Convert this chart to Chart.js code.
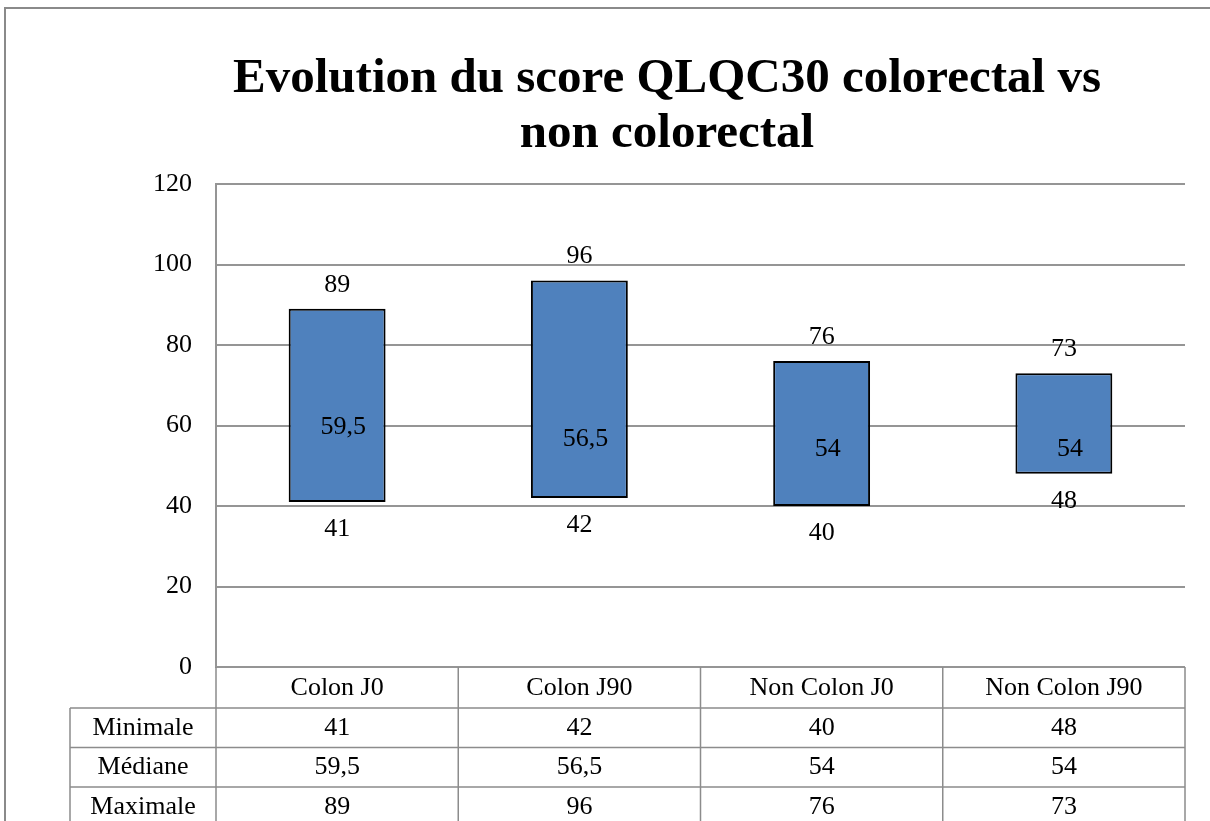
<!DOCTYPE html>
<html>
<head>
<meta charset="utf-8">
<script src="https://cdn.jsdelivr.net/npm/chart.js@4.4.1/dist/chart.umd.min.js"></script>
<style>
  html, body { margin: 0; padding: 0; background: #fff; }
  #wrap { width: 1210px; height: 821px; position: relative; }
</style>
</head>
<body>
<div id="wrap"><canvas id="c" width="1210" height="821"></canvas></div>
<script>
const categories = ['Colon J0', 'Colon J90', 'Non Colon J0', 'Non Colon J90'];
const minimale = [41, 42, 40, 48];
const mediane = [59.5, 56.5, 54, 54];
const maximale = [89, 96, 76, 73];
const rowLabels = ['Minimale', 'Médiane', 'Maximale'];
const titleLines = ['Evolution du score QLQC30 colorectal vs', 'non colorectal'];
const yMin = 0, yMax = 120, yStep = 20;

const SERIF = '"Liberation Serif", "DejaVu Serif", serif';
const fmt = v => String(v).replace('.', ',');
const rows = [minimale, mediane, maximale];

const decor = {
  id: 'decor',
  beforeDraw(chart) {
    const ctx = chart.ctx;
    ctx.save();
    ctx.fillStyle = '#fff';
    ctx.fillRect(0, 0, chart.width, chart.height);
    ctx.strokeStyle = '#8a8a8a';
    ctx.lineWidth = 2;
    ctx.beginPath();
    ctx.moveTo(5, chart.height);
    ctx.lineTo(5, 8);
    ctx.lineTo(chart.width, 8);
    ctx.stroke();
    // title
    ctx.fillStyle = '#000';
    ctx.font = 'bold 49px ' + SERIF;
    ctx.textAlign = 'center';
    ctx.textBaseline = 'alphabetic';
    ctx.fillText(titleLines[0], 667, 92);
    ctx.fillText(titleLines[1], 667, 147);
    ctx.restore();
  },
  afterDraw(chart) {
    const ctx = chart.ctx;
    const x = chart.scales.x, y = chart.scales.y;
    const area = chart.chartArea;
    const meta = chart.getDatasetMeta(0);
    ctx.save();
    ctx.fillStyle = '#000';
    ctx.font = '26px ' + SERIF;
    ctx.textAlign = 'center';
    ctx.textBaseline = 'middle';
    meta.data.forEach((bar, i) => {
      const cx = bar.x;
      ctx.fillText(fmt(maximale[i]), cx, y.getPixelForValue(maximale[i]) - 24);
      ctx.fillText(fmt(minimale[i]), cx, y.getPixelForValue(minimale[i]) + 27);
      ctx.fillText(fmt(mediane[i]), cx + 6, y.getPixelForValue(mediane[i]));
    });

    // data table
    const catW = (area.right - area.left) / categories.length;
    const top = area.bottom;
    const headH = 41, rowH = 39.5;
    const leftCol = 70;
    const bottom = chart.height;
    ctx.strokeStyle = '#8c8c8c';
    ctx.lineWidth = 1.5;
    ctx.beginPath();
    for (let i = 0; i <= categories.length; i++) {
      const xx = area.left + i * catW;
      ctx.moveTo(xx, top);
      ctx.lineTo(xx, bottom);
    }
    ctx.moveTo(leftCol, top + headH);
    ctx.lineTo(leftCol, bottom);
    for (let r = 0; r < rows.length; r++) {
      const yy = top + headH + r * rowH;
      ctx.moveTo(leftCol, yy);
      ctx.lineTo(area.right, yy);
    }
    ctx.stroke();

    ctx.fillStyle = '#000';
    ctx.font = '26px ' + SERIF;
    categories.forEach((c, i) => {
      ctx.fillText(c, x.getPixelForValue(i), top + headH / 2 + 1);
    });
    rows.forEach((vals, r) => {
      const cy = top + headH + r * rowH + rowH / 2;
      ctx.fillText(rowLabels[r], (leftCol + area.left) / 2, cy);
      vals.forEach((v, i) => {
        ctx.fillText(fmt(v), x.getPixelForValue(i), cy);
      });
    });
    ctx.restore();
  }
};

new Chart(document.getElementById('c'), {
  type: 'bar',
  data: {
    labels: categories,
    datasets: [{
      data: categories.map((_, i) => [minimale[i], maximale[i]]),
      backgroundColor: '#4F81BD',
      borderColor: '#000',
      borderWidth: 2,
      borderSkipped: false,
      categoryPercentage: 1,
      barPercentage: 0.4
    }]
  },
  options: {
    responsive: false,
    animation: false,
    layout: { padding: { top: 184, right: 25, bottom: 154, left: 0 } },
    plugins: { legend: { display: false }, tooltip: { enabled: false }, title: { display: false } },
    scales: {
      x: { display: false },
      y: {
        min: yMin, max: yMax,
        afterFit(scale) { scale.width = 216; },
        ticks: { stepSize: yStep, color: '#000', font: { family: SERIF, size: 26 }, padding: 24 },
        grid: { color: '#959595', lineWidth: 2, drawTicks: false },
        border: { display: true, color: '#959595', width: 2 }
      }
    }
  },
  plugins: [decor]
});
</script>
</body>
</html>
